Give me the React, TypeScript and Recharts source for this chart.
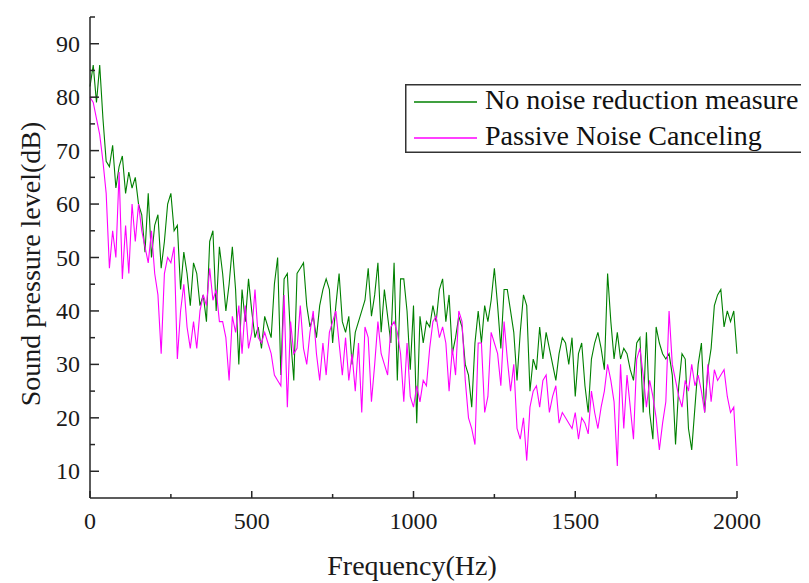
import { LineChart, Line, XAxis, YAxis, Legend } from 'recharts';

// frequency (Hz), one point every 10 Hz
const frequency = [
  0, 10, 20, 30, 40, 50, 60, 70, 80, 90, 100, 110, 120, 130, 140, 150, 160, 170, 180, 190,
  200, 210, 220, 230, 240, 250, 260, 270, 280, 290, 300, 310, 320, 330, 340, 350, 360, 370, 380, 390,
  400, 410, 420, 430, 440, 450, 460, 470, 480, 490, 500, 510, 520, 530, 540, 550, 560, 570, 580, 590,
  600, 610, 620, 630, 640, 650, 660, 670, 680, 690, 700, 710, 720, 730, 740, 750, 760, 770, 780, 790,
  800, 810, 820, 830, 840, 850, 860, 870, 880, 890, 900, 910, 920, 930, 940, 950, 960, 970, 980, 990,
  1000, 1010, 1020, 1030, 1040, 1050, 1060, 1070, 1080, 1090, 1100, 1110, 1120, 1130, 1140, 1150, 1160, 1170, 1180, 1190,
  1200, 1210, 1220, 1230, 1240, 1250, 1260, 1270, 1280, 1290, 1300, 1310, 1320, 1330, 1340, 1350, 1360, 1370, 1380, 1390,
  1400, 1410, 1420, 1430, 1440, 1450, 1460, 1470, 1480, 1490, 1500, 1510, 1520, 1530, 1540, 1550, 1560, 1570, 1580, 1590,
  1600, 1610, 1620, 1630, 1640, 1650, 1660, 1670, 1680, 1690, 1700, 1710, 1720, 1730, 1740, 1750, 1760, 1770, 1780, 1790,
  1800, 1810, 1820, 1830, 1840, 1850, 1860, 1870, 1880, 1890, 1900, 1910, 1920, 1930, 1940, 1950, 1960, 1970, 1980, 1990,
  2000,
];

// sound pressure level (dB) without any measure
const noReduction = [
  82, 86, 79, 86, 76, 68, 67, 71, 63, 67, 69, 62, 66, 63, 65, 60, 58, 51, 62, 50,
  56, 58, 48, 53, 60, 62, 55, 56, 44, 51, 47, 41, 49, 47, 41, 43, 38, 53, 55, 40,
  52, 47, 40, 45, 52, 44, 30, 44, 38, 46, 40, 35, 37, 33, 39, 37, 35, 45, 50, 28,
  46, 47, 35, 27, 47, 48, 49, 41, 37, 39, 35, 41, 44, 46, 44, 34, 41, 47, 38, 36,
  39, 30, 36, 38, 40, 42, 48, 39, 43, 49, 36, 44, 39, 34, 49, 27, 46, 46, 40, 29,
  41, 19, 39, 34, 38, 37, 41, 38, 44, 46, 38, 43, 32, 35, 39, 37, 30, 28, 22, 34,
  40, 34, 41, 38, 42, 48, 41, 33, 44, 44, 40, 36, 27, 36, 43, 41, 25, 31, 29, 37,
  31, 36, 33, 30, 27, 32, 35, 34, 30, 35, 24, 32, 34, 26, 21, 31, 34, 36, 33, 29,
  47, 38, 31, 36, 31, 33, 32, 29, 27, 34, 35, 21, 36, 21, 16, 37, 34, 32, 31, 32,
  28, 15, 26, 32, 31, 18, 14, 22, 30, 34, 21, 29, 33, 41, 43, 44, 37, 40, 38, 40,
  32,
];

// sound pressure level (dB) with passive noise canceling
const passive = [
  80, 79, 76, 73, 68, 62, 48, 55, 50, 66, 46, 56, 47, 60, 53, 60, 55, 52, 49, 55,
  47, 43, 32, 47, 50, 49, 52, 31, 40, 45, 37, 33, 38, 33, 40, 43, 41, 48, 42, 44,
  38, 38, 35, 27, 39, 36, 41, 32, 41, 33, 36, 44, 35, 34, 36, 34, 32, 28, 27, 26,
  43, 22, 38, 32, 33, 41, 33, 30, 36, 40, 32, 27, 34, 28, 36, 38, 40, 34, 28, 35,
  27, 32, 25, 34, 21, 37, 35, 23, 30, 38, 32, 30, 28, 37, 38, 36, 32, 23, 34, 24,
  22, 26, 23, 27, 26, 33, 38, 39, 35, 37, 34, 25, 33, 28, 40, 38, 27, 20, 18, 15,
  34, 34, 21, 24, 36, 34, 32, 26, 38, 31, 25, 30, 18, 16, 20, 12, 22, 25, 26, 22,
  27, 28, 21, 24, 26, 19, 21, 20, 19, 18, 21, 16, 20, 19, 17, 25, 21, 18, 22, 25,
  30, 27, 23, 11, 30, 18, 28, 22, 16, 31, 33, 28, 22, 27, 24, 20, 14, 19, 23, 40,
  30, 27, 24, 22, 27, 25, 30, 26, 28, 25, 21, 30, 23, 29, 27, 28, 29, 24, 21, 22,
  11,
];

const xTicks = [0, 250, 500, 750, 1000, 1250, 1500, 1750, 2000];
const yTicks = [10, 15, 20, 25, 30, 35, 40, 45, 50, 55, 60, 65, 70, 75, 80, 85, 90, 95];

const seriesNames = ['No noise reduction measure', 'Passive Noise Canceling'];
const seriesColors = ['#008000', '#ff00ff'];

const FONT = '"Liberation Serif", "Times New Roman", serif';
const AXIS = '#262626';

const data = frequency.map((f, i) => ({ f, a: noReduction[i], b: passive[i] }));

const YTick = (props) => {
  const { x, y, payload } = props;
  const major = payload.value % 10 === 0;
  return (
    <g>
      <line x1={x} x2={x + (major ? 9 : 5)} y1={y} y2={y} stroke={AXIS} strokeWidth={1.5} />
      {major && (
        <text x={x - 10} y={y + 8} textAnchor="end" fontFamily={FONT} fontSize={24} fill="#1a1a1a">
          {payload.value}
        </text>
      )}
    </g>
  );
};

const XTick = (props) => {
  const { x, y, payload } = props;
  const major = payload.value % 500 === 0;
  return (
    <g>
      <line x1={x} x2={x} y1={y} y2={y - (major ? 7 : 4)} stroke={AXIS} strokeWidth={1.5} />
      {major && (
        <text x={x} y={y + 31} textAnchor="middle" fontFamily={FONT} fontSize={24} fill="#1a1a1a">
          {payload.value}
        </text>
      )}
    </g>
  );
};

const renderLegend = () => (
  <svg width={403} height={69} style={{ display: 'block' }}>
    <rect x={0.75} y={0.75} width={401.5} height={67.5} fill="#fff" stroke="#333" strokeWidth={1.5} />
    {seriesNames.map((name, i) => (
      <g key={name}>
        <line x1={9} x2={72} y1={18 + i * 36} y2={18 + i * 36} stroke={seriesColors[i]} strokeWidth={1.3} />
        <text x={80} y={25 + i * 36} fontFamily={FONT} fontSize={28} fill="#111">
          {name}
        </text>
      </g>
    ))}
  </svg>
);

const App = () => {
  return (
    <div style={{ position: 'relative', width: 801, height: 575 }}>
      <LineChart width={801} height={575} data={data} margin={{ top: 9, right: 72, bottom: 55, left: 10 }}>
        <XAxis
          dataKey="f"
          type="number"
          domain={[0, 2000]}
          ticks={xTicks}
          interval={0}
          height={30}
          tickSize={0}
          tickMargin={0}
          tickLine={false}
          tick={<XTick />}
          axisLine={{ stroke: AXIS, strokeWidth: 1.5 }}
        />
        <YAxis
          type="number"
          domain={[5, 95]}
          ticks={yTicks}
          interval={0}
          width={72}
          tickSize={0}
          tickMargin={0}
          tickLine={false}
          tick={<YTick />}
          axisLine={{ stroke: AXIS, strokeWidth: 1.5 }}
          allowDataOverflow
        />
        <Legend
          content={renderLegend}
          layout="vertical"
          align="center"
          verticalAlign="middle"
          wrapperStyle={{ left: 397, top: 76, width: 403 }}
        />
        <Line type="linear" dataKey="a" name={seriesNames[0]} stroke={seriesColors[0]} strokeWidth={1.1} dot={false} isAnimationActive={false} />
        <Line type="linear" dataKey="b" name={seriesNames[1]} stroke={seriesColors[1]} strokeWidth={1.1} dot={false} isAnimationActive={false} />
      </LineChart>
      <svg width={801} height={575} style={{ position: 'absolute', left: 0, top: 0, pointerEvents: 'none' }}>
        <text x={404} y={567} textAnchor="middle" fontFamily={FONT} fontSize={28} fill="#1a1a1a">
          Frequency(Hz)
        </text>
        <text
          x={22}
          y={256}
          textAnchor="middle"
          dominantBaseline="central"
          transform="rotate(-90, 22, 256)"
          fontFamily={FONT}
          fontSize={28}
          fill="#1a1a1a"
        >
          Sound pressure level(dB)
        </text>
      </svg>
    </div>
  );
};

export default App;
